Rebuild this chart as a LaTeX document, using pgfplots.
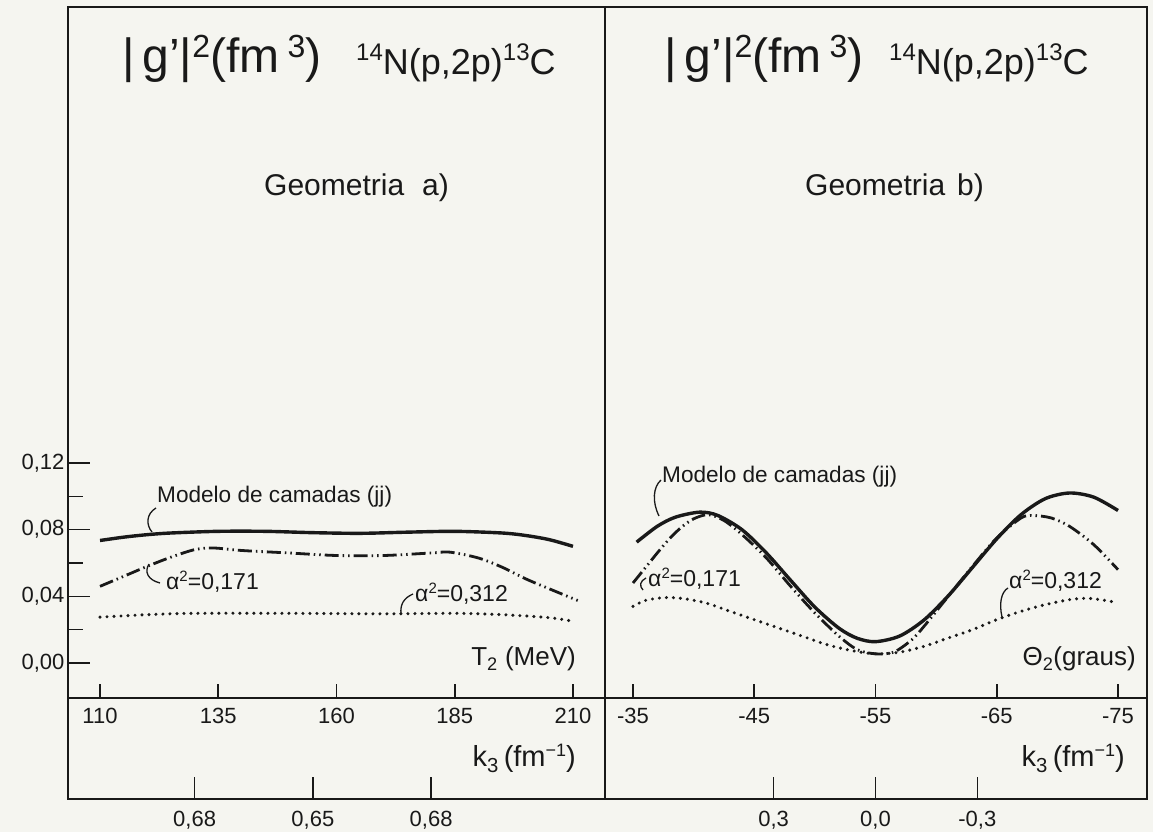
\documentclass[border=0pt]{standalone}
\usepackage{pgfplots}
\pgfplotsset{compat=1.18}
\usepackage{fontspec}
\setmainfont{Liberation Sans}

\definecolor{paper}{RGB}{245,245,240}
\definecolor{ink}{RGB}{25,25,25}

\pgfplotsset{
  panel/.style={
    scale only axis, clip=false, anchor=south west,
    axis line style={ink, line width=2pt},
    tick align=inside, tick pos=left,
    every tick/.style={ink, line width=1.6pt},
    tick label style={font=\fontsize{22}{22}\selectfont, text=ink},
    /pgf/number format/assume math mode=true,
  },
  shell/.style={ink, line width=3.4pt, smooth},
  mixed/.style={ink, line width=2.8pt, smooth,
    dash pattern=on 14pt off 4pt on 1.5pt off 4pt on 1.5pt off 4pt},
  dots/.style={ink, line width=3.4pt, smooth, line cap=round,
    dash pattern=on 0pt off 7pt},
}

\newcommand{\fs}[1]{\fontsize{#1}{#1}\selectfont}
% raised small figures, as in the hand lettering
\newcommand{\up}[3]{\raisebox{#2}{\fs{#1}#3}}

\begin{document}
\begin{tikzpicture}[x=1pt,y=1pt]
\fill[paper] (0,0) rectangle (1153,832);
\path[use as bounding box] (0,0) rectangle (1153,832);

% ---------------- Geometria a): curves against T2 ----------------
\begin{axis}[panel, at={(68pt,134pt)}, width=537pt, height=691pt,
  xmin=103.23, xmax=216.77, ymin=-0.021, ymax=0.3936,
  ytick={0,0.04,0.08,0.12}, yticklabels={{0,00},{0,04},{0,08},{0,12}},
  minor ytick={0.02,0.06,0.10},
  major tick length=22pt, minor tick length=15pt,
  xtick=\empty,
  extra x ticks={110,135,160,185,210},
  extra x tick labels={110,135,160,185,210},
  extra x tick style={major tick length=14pt,
    xticklabel style={yshift=-7pt}},
]
\addplot[shell] coordinates {
  (110,0.0735) (115,0.0755) (120,0.0770) (125,0.0780) (135,0.0790)
  (145,0.0790) (155,0.0782) (165,0.0778) (175,0.0785) (185,0.0790)
  (195,0.0780) (200,0.0765) (205,0.0740) (210,0.0700)};
\addplot[mixed] coordinates {
  (110,0.0460) (115,0.0520) (120,0.0580) (125,0.0635) (130,0.0680)
  (134,0.0690) (140,0.0675) (150,0.0660) (160,0.0645) (170,0.0645)
  (180,0.0660) (184,0.0665) (190,0.0630) (195,0.0575) (200,0.0505)
  (205,0.0445) (211,0.0375)};
\addplot[dots] coordinates {
  (110,0.0275) (120,0.0290) (130,0.0298) (150,0.0298) (170,0.0295)
  (185,0.0298) (195,0.0290) (205,0.0272) (210,0.0250)};
\end{axis}

% k3 scale under panel a
\begin{axis}[panel, at={(68pt,33pt)}, width=537pt, height=101pt,
  xmin=103.23, xmax=216.77, ymin=0, ymax=1, ytick=\empty,
  xtick={130,155,180}, xticklabels={{0,68},{0,65},{0,68}},
  xticklabel style={yshift=-9pt},
  major tick length=22pt,
]
\end{axis}

% ---------------- Geometria b): curves against Theta2 ----------------
\begin{axis}[panel, at={(605pt,134pt)}, width=542pt, height=691pt,
  x dir=reverse, xmin=-77.39, xmax=-32.69, ymin=-0.021, ymax=0.3936,
  ytick=\empty,
  xtick={-35,-45,-55,-65,-75}, xticklabels={-35,-45,-55,-65,-75},
  xticklabel style={yshift=-7pt},
  major tick length=14pt,
]
\addplot[shell] coordinates {
  (-35.3,0.0725) (-37,0.0820) (-38.5,0.0875) (-40.5,0.0905) (-42,0.0885)
  (-44,0.0799) (-46,0.0660) (-48,0.0496) (-50,0.0335) (-52,0.0208)
  (-53.5,0.0148) (-55,0.0128) (-57,0.0162) (-59,0.0258) (-61,0.0403)
  (-63,0.0574) (-65,0.0745) (-67,0.0890) (-69,0.0986) (-71,0.1020)
  (-73,0.0995) (-75,0.0915)};
\addplot[mixed] coordinates {
  (-35,0.0480) (-36,0.0570) (-37,0.0660) (-38,0.0745) (-39,0.0815)
  (-40,0.0865) (-41.2,0.0890) (-42.5,0.0855) (-44,0.0770) (-46,0.0630)
  (-48,0.0460) (-50,0.0300) (-52,0.0160) (-53.5,0.0080) (-55,0.0055)
  (-56.5,0.0065) (-58,0.0140) (-59,0.0220) (-61,0.0400) (-63,0.0580)
  (-65,0.0750) (-67,0.0870) (-68,0.0885) (-69.5,0.0870) (-71,0.0820)
  (-73,0.0710) (-75,0.0560)};
\addplot[dots] coordinates {
  (-35,0.0340) (-36,0.0375) (-37.5,0.0392) (-39,0.0388) (-41,0.0360)
  (-43,0.0310) (-45,0.0260) (-47,0.0210) (-49,0.0160) (-51,0.0110)
  (-53,0.0075) (-55,0.0055) (-57,0.0065) (-59,0.0100) (-61,0.0150)
  (-63,0.0200) (-65,0.0260) (-67,0.0310) (-69,0.0350) (-71,0.0380)
  (-72.5,0.0388) (-74,0.0375) (-75,0.0360)};
\end{axis}

% k3 scale under panel b
\begin{axis}[panel, at={(605pt,33pt)}, width=542pt, height=101pt,
  x dir=reverse, xmin=-77.39, xmax=-32.69, ymin=0, ymax=1, ytick=\empty,
  xtick={-46.6,-55,-63.4}, xticklabels={{0,3},{0,0},{-0,3}},
  xticklabel style={yshift=-9pt},
  major tick length=22pt,
]
\end{axis}

% ---------------- titles and annotations ----------------
\begin{scope}[every node/.style={text=ink, inner sep=0pt}]
  % panel a
  \node[anchor=base west] at (122,759) {\fs{48}|\,g’|\up{32}{15pt}{2}(fm\,\up{32}{15pt}{3})};
  \node[anchor=base west] at (356,757) {\fs{36}\up{24}{14pt}{14}N(p,2p)\up{24}{14pt}{13}C};
  \node[anchor=base west] at (264,636) {\fs{30}Geometria\hspace{0.6em}a)};
  \node[anchor=base west] at (157,329) {\fs{22.6}Modelo de camadas (jj)};
  \node[anchor=base west] at (166,242) {\fs{23}α\up{15}{8pt}{2}=0,171};
  \node[anchor=base west] at (415,230) {\fs{23}α\up{15}{8pt}{2}=0,312};
  \node[anchor=base east] at (576,166) {\fs{26}T\textsubscript{2} (MeV)};
  \node[anchor=base east] at (576,65) {\fs{29}k\textsubscript{3}\,(fm\up{18}{10pt}{−1})};
  % panel b
  \node[anchor=base west] at (664,759) {\fs{48}|\,g’|\up{32}{15pt}{2}(fm\,\up{32}{15pt}{3})};
  \node[anchor=base west] at (889,757) {\fs{36}\up{24}{14pt}{14}N(p,2p)\up{24}{14pt}{13}C};
  \node[anchor=base west] at (805,636) {\fs{30}Geometria\hspace{0.4em}b)};
  \node[anchor=base west] at (662,349) {\fs{22.6}Modelo de camadas (jj)};
  \node[anchor=base west] at (648,245) {\fs{23}α\up{15}{8pt}{2}=0,171};
  \node[anchor=base west] at (1009,243) {\fs{23}α\up{15}{8pt}{2}=0,312};
  \node[anchor=base east] at (1136,166) {\fs{26}Θ\textsubscript{2}(graus)};
  \node[anchor=base east] at (1125,65) {\fs{29}k\textsubscript{3}\,(fm\up{18}{10pt}{−1})};
\end{scope}

\begin{scope}[ink, line width=1.3pt]
  % leaders, panel a
  \draw (156,324) .. controls (146,318) and (146,307) .. (152,300);
  \draw (149,268) .. controls (144,260) and (148,252) .. (160,249);
  \draw (413,238) .. controls (404,234) and (400,228) .. (401,218);
  % leaders, panel b
  \draw (661,352) .. controls (653,345) and (652,330) .. (659,316);
  \draw (646,254) .. controls (640,251) and (639,246) .. (643,242);
  \draw (1008,244) .. controls (1001,240) and (999,228) .. (1002,215);
\end{scope}
\end{tikzpicture}
\end{document}
